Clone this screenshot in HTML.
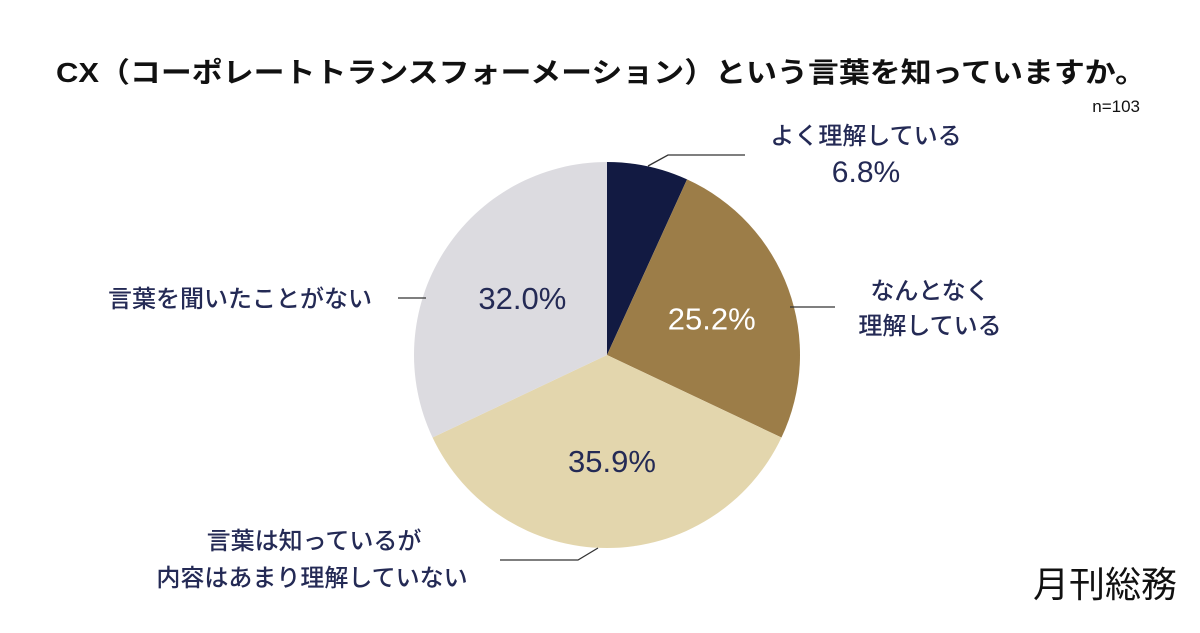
<!DOCTYPE html>
<html><head><meta charset="utf-8"><style>
body{margin:0;background:#fff;}
svg text{font-family:"Liberation Sans","Noto Sans CJK JP",sans-serif;}
</style></head><body>
<svg id="chart" width="1200" height="628" viewBox="0 0 1200 628" xmlns="http://www.w3.org/2000/svg">
<text x="56" y="82" font-size="28" font-weight="bold" fill="#111" textLength="1090" lengthAdjust="spacingAndGlyphs">CX（コーポレートトランスフォーメーション）という言葉を知っていますか。</text>
<text x="1140" y="112" text-anchor="end" font-size="17" fill="#111">n=103</text>
<g id="slices"></g>
<g id="labels" fill="#242a55" font-size="24" font-weight="500">
<text x="866" y="144" text-anchor="middle">よく理解している</text>
<text x="866" y="182" text-anchor="middle" font-size="30">6.8%</text>
<text x="930" y="299" text-anchor="middle">なんとなく</text>
<text x="930" y="334" text-anchor="middle">理解している</text>
<text x="314" y="549" text-anchor="middle">言葉は知っているが</text>
<text x="312" y="586" text-anchor="middle">内容はあまり理解していない</text>
<text x="240" y="307" text-anchor="middle">言葉を聞いたことがない</text>
</g>
<g stroke="#333" stroke-width="1.3" fill="none">
<polyline points="648,166 668,155 745,155"/>
<polyline points="790,307 835,307"/>
<polyline points="598,548 578,560 500,560"/>
<polyline points="398,298 426,298"/>
</g>
<text x="1105" y="597" text-anchor="middle" font-size="36" fill="#111">月刊総務</text>
</svg>
<script>
const categories=["よく理解している","なんとなく理解している","言葉は知っているが内容はあまり理解していない","言葉を聞いたことがない"];
const values=[6.8,25.2,35.9,32.0];
const valueLabels=["6.8%","25.2%","35.9%","32.0%"];
const colors=["#121a42","#9c7d48","#e3d6ad","#dcdbe0"];
const cx=607,cy=355,r=193;
const total=values.reduce((a,b)=>a+b,0);
const g=document.getElementById('slices');
const ns="http://www.w3.org/2000/svg";
let a0=0;
function pt(a,rr){return [cx+rr*Math.sin(a),cy-rr*Math.cos(a)];}
values.forEach((v,i)=>{
 const a1=a0+v/total*2*Math.PI;
 const p0=pt(a0,r),p1=pt(a1,r);
 const p=document.createElementNS(ns,'path');
 p.setAttribute('d',`M${cx},${cy}L${p0[0]},${p0[1]}A${r},${r} 0 ${a1-a0>Math.PI?1:0} 1 ${p1[0]},${p1[1]}Z`);
 p.setAttribute('fill',colors[i]);
 
 
 g.appendChild(p);
 if(i>0){
  const m=(a0+a1)/2,c=pt(m,r*0.55);
  const t=document.createElementNS(ns,'text');
  t.setAttribute('x',c[0]+5);t.setAttribute('y',c[1]+11);
  t.setAttribute('text-anchor','middle');t.setAttribute('font-size','31');
  t.setAttribute('font-weight','500');
  t.setAttribute('fill',i==1?'#fff':'#242a55');
  t.textContent=valueLabels[i];
  
  
  g.appendChild(t);
 }
 a0=a1;
});
</script>
</body></html>
